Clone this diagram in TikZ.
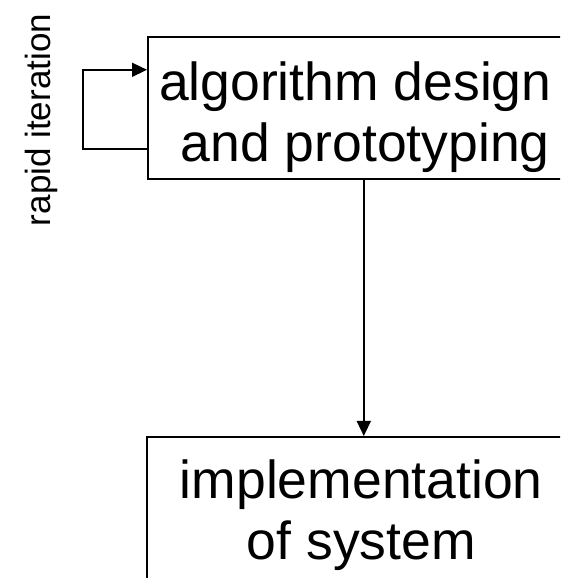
\documentclass[tikz,border=0pt]{standalone}
\usepackage{fontspec}
\setmainfont{Liberation Sans}
\usetikzlibrary{arrows.meta}
\begin{document}
\begin{tikzpicture}[x=1pt,y=1pt,
  boxshape/.style={draw, line width=1.6pt, rectangle, inner sep=0pt, anchor=north west},
  bigtext/.style={font=\fontsize{53.5}{61}\selectfont, align=center, inner sep=0pt, anchor=north},
  arr/.style={line width=1.6pt, -{Triangle[width=14pt,length=15pt]}},
  lbl/.style={font=\fontsize{35}{40}\selectfont, rotate=90, inner sep=0pt, anchor=base}]
\useasboundingbox (0,0) rectangle (560,578);
\clip (0,0) rectangle (560,578);
\fill[white] (0,0) rectangle (560,578);
\node[boxshape, minimum width=426pt, minimum height=142pt] (alg) at (147,542) {};
\node[boxshape, minimum width=428pt, minimum height=220pt] (impl) at (146,142) {};
\node[bigtext] (algtext) at ([xshift=4.5pt,yshift=-26pt]alg.north) {algorithm design\hspace*{20pt}\\and prototyping};
\node[bigtext] (impltext) at ([xshift=0.5pt,yshift=-24pt]impl.north) {implementation\\of system};
\draw[arr] ([xshift=3pt]alg.south) -- ([xshift=3pt]alg.south |- impl.north);
\coordinate (loopout) at ([yshift=-41pt]alg.west);
\coordinate (loopin) at ([yshift=38pt]alg.west);
\coordinate (loopleft) at (83,0);
\draw[arr] (loopout) -| (loopleft |- loopin) -- (loopin);
\node[lbl] (rapid) at (50,458) {rapid iteration};
\end{tikzpicture}
\end{document}
